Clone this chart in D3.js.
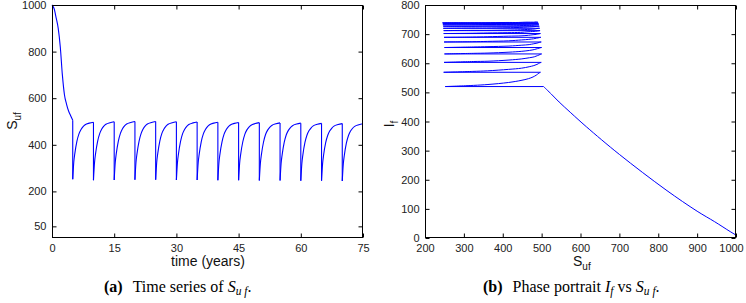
<!DOCTYPE html>
<html>
<head>
<meta charset="utf-8">
<script src="https://cdn.jsdelivr.net/npm/d3@7"></script>
<style>
  body { margin: 0; background: #fff; }
  svg { display: block; }
  .tick text { font-family: "Liberation Sans", Arial, sans-serif; font-size: 11px; fill: #222; }
  .lbl { font-family: "Liberation Sans", Arial, sans-serif; font-size: 14px; fill: #111; }
  .cap { font-family: "Liberation Serif", "Times New Roman", serif; font-size: 16px; fill: #000; }
</style>
</head>
<body>
<svg id="chart" width="746" height="303"></svg>
<script>
// pulse times (years) and the sampling offsets inside each 5-year cycle
const pulseTimes = [5, 10, 15, 20, 25, 30, 35, 40, 45, 50, 55, 60, 65, 70];
const cycleOffsets = [0, 0.25, 0.5, 1, 1.5, 2, 2.5, 3, 4, 5];

// first 5 years, before the first pulse
const initialTimes = [0, 0.5, 1, 1.5, 2, 2.5, 3, 3.5, 4, 4.5, 5];
const initialS = [1000, 985, 945, 900, 820, 700, 615, 575, 545, 525, 505];
const initialI = [10, 22, 56, 92, 165, 287, 382, 430, 467, 494, 520];

// S_uf after each pulse (one row per cycle, at cycleOffsets)
const cycleS = [
  [252, 325, 362, 415, 447, 466, 478, 486, 493, 497],
  [248, 323, 361, 415, 448, 468, 480, 488, 495, 499],
  [249, 324, 362, 416, 449, 469, 481, 489, 496, 500],
  [250, 324, 362, 416, 449, 469, 481, 489, 496, 500],
  [250, 324, 362, 416, 449, 468, 480, 488, 495, 499],
  [249, 323, 361, 415, 448, 467, 479, 487, 494, 498],
  [249, 322, 360, 414, 447, 466, 478, 486, 493, 497],
  [248, 322, 360, 413, 446, 465, 477, 485, 492, 496],
  [248, 321, 359, 412, 445, 464, 476, 484, 491, 495],
  [247, 320, 358, 411, 444, 463, 475, 483, 490, 494],
  [247, 320, 357, 410, 443, 462, 474, 482, 489, 493],
  [246, 319, 357, 410, 442, 461, 473, 481, 488, 492],
  [246, 318, 356, 409, 441, 460, 472, 480, 487, 491],
  [245, 318, 355, 408, 440, 459, 471, 479, 486, 490]
];

// I_f after each pulse (same layout)
const cycleI = [
  [520, 524, 527, 534, 541, 547, 553, 559, 566, 569],
  [569, 572, 574, 579, 583, 588, 592, 596, 601, 603],
  [603, 606, 607, 611, 615, 619, 622, 626, 630, 632],
  [632, 634, 635, 638, 641, 644, 647, 650, 653, 654],
  [654, 656, 657, 659, 662, 664, 667, 669, 672, 673],
  [673, 674, 675, 677, 680, 682, 684, 686, 688, 689],
  [689, 690, 691, 693, 694, 696, 698, 699, 701, 702],
  [702, 703, 704, 705, 706, 708, 709, 710, 711, 712],
  [712, 713, 713, 714, 715, 716, 717, 718, 720, 720],
  [720, 721, 721, 722, 723, 724, 725, 726, 727, 727],
  [727, 727, 728, 728, 729, 730, 730, 731, 732, 732],
  [732, 732, 733, 733, 734, 734, 735, 735, 736, 736],
  [736, 736, 736, 737, 737, 738, 738, 738, 739, 739],
  [739, 739, 739, 740, 740, 741, 741, 741, 742, 742]
];

const timeTicks = [0, 15, 30, 45, 60, 75];
const sTicksA = [50, 200, 400, 600, 800, 1000];
const sTicksB = [200, 300, 400, 500, 600, 700, 800, 900, 1000];
const iTicks = [0, 100, 200, 300, 400, 500, 600, 700, 800];

// build the segments (a pulse separates two segments)
const segments = [initialTimes.map((t, k) => ({ t, s: initialS[k], i: initialI[k] }))];
pulseTimes.forEach((p, c) => {
  segments.push(cycleOffsets.map((o, k) => ({ t: p + o, s: cycleS[c][k], i: cycleI[c][k] })));
});

const svg = d3.select("#chart");
const plotTop = 5, plotBottom = 238;
const BLUE = "#0000ff";
const fmt = d3.format("d");

function frame(g, x, y, xTicks, yTicks) {
  const [x0, x1] = x.range();
  g.append("rect")
    .attr("x", x0 + 0.5).attr("y", plotTop + 0.5)
    .attr("width", x1 - x0 - 1).attr("height", plotBottom - plotTop - 1)
    .attr("fill", "none").attr("stroke", "#000").attr("stroke-width", 1);

  const xb = g.append("g").attr("transform", `translate(0,${plotBottom - 0.5})`)
    .call(d3.axisBottom(x).tickValues(xTicks).tickSize(-4).tickPadding(7).tickFormat(fmt))
    .call(a => a.select(".domain").remove());
  // keep the last x label inside the page
  xb.selectAll(".tick text").filter(d => x(d) > 730).attr("dx", -5);
  g.append("g").attr("transform", `translate(0,${plotTop + 0.5})`)
    .call(d3.axisTop(x).tickValues(xTicks).tickSize(-4).tickFormat(""))
    .call(a => a.select(".domain").remove());
  g.append("g").attr("transform", `translate(${x0 + 0.5},0)`)
    .call(d3.axisLeft(y).tickValues(yTicks).tickSize(-4).tickPadding(6).tickFormat(fmt))
    .call(a => a.select(".domain").remove());
  g.append("g").attr("transform", `translate(${x1 - 0.5},0)`)
    .call(d3.axisRight(y).tickValues(yTicks).tickSize(-4).tickFormat(""))
    .call(a => a.select(".domain").remove());
  g.selectAll(".tick line").attr("stroke", "#000");
}

// ---- (a) time series ----
const xa = d3.scaleLinear().domain([0, 75]).range([52, 363]);
const ya = d3.scaleLinear().domain([0, 1000]).range([plotBottom, plotTop]);
const ga = svg.append("g");

const lineA = d3.line().x(d => xa(d.t)).y(d => ya(d.s)).curve(d3.curveMonotoneX);
ga.append("g").selectAll("path").data(segments).join("path")
  .attr("d", lineA).attr("fill", "none").attr("stroke", BLUE).attr("stroke-width", 1.1);
ga.append("g").selectAll("line").data(segments.slice(1)).join("line")
  .attr("x1", (d, k) => xa(segments[k][segments[k].length - 1].t))
  .attr("y1", (d, k) => ya(segments[k][segments[k].length - 1].s))
  .attr("x2", d => xa(d[0].t)).attr("y2", d => ya(d[0].s))
  .attr("stroke", BLUE).attr("stroke-width", 1.1);
frame(ga, xa, ya, timeTicks, sTicksA);

ga.append("text").attr("class", "lbl").attr("x", 208).attr("y", 266)
  .attr("text-anchor", "middle").text("time (years)");
ga.append("text").attr("class", "lbl")
  .attr("transform", "translate(17,121) rotate(-90)").attr("text-anchor", "middle")
  .call(t => {
    t.append("tspan").text("S");
    t.append("tspan").attr("dy", 4).style("font-size", "10px").text("uf");
  });

// ---- (b) phase portrait ----
const xb = d3.scaleLinear().domain([200, 1000]).range([425, 736]);
const yb = d3.scaleLinear().domain([0, 800]).range([plotBottom, plotTop]);
const gb = svg.append("g");

const lineB = d3.line().x(d => xb(d.s)).y(d => yb(d.i)).curve(d3.curveCatmullRom);
gb.append("g").selectAll("path").data(segments).join("path")
  .attr("d", lineB).attr("fill", "none").attr("stroke", BLUE).attr("stroke-width", 1);
gb.append("g").selectAll("line").data(segments.slice(1)).join("line")
  .attr("x1", (d, k) => xb(segments[k][segments[k].length - 1].s))
  .attr("y1", (d, k) => yb(segments[k][segments[k].length - 1].i))
  .attr("x2", d => xb(d[0].s)).attr("y2", d => yb(d[0].i))
  .attr("stroke", BLUE).attr("stroke-width", 1);
frame(gb, xb, yb, sTicksB, iTicks);

gb.append("text").attr("class", "lbl").attr("x", 573).attr("y", 266)
  .call(t => {
    t.append("tspan").text("S");
    t.append("tspan").attr("dy", 4).style("font-size", "10px").text("uf");
  });
gb.append("text").attr("class", "lbl")
  .attr("transform", "translate(394,124) rotate(-90)").attr("text-anchor", "middle")
  .call(t => {
    t.append("tspan").text("I");
    t.append("tspan").attr("dy", 4).style("font-size", "10px").text("f");
  });

// ---- captions ----
svg.append("text").attr("class", "cap").attr("x", 104).attr("y", 292)
  .call(t => {
    t.append("tspan").style("font-weight", "bold").text("(a)");
    t.append("tspan").attr("dx", 10).text("Time series of ");
    t.append("tspan").style("font-style", "italic").text("S");
    t.append("tspan").attr("dy", 3).style("font-style", "italic").style("font-size", "11.5px").text("u f");
    t.append("tspan").attr("dy", -3).text(".");
  });
svg.append("text").attr("class", "cap").attr("x", 483).attr("y", 292)
  .call(t => {
    t.append("tspan").style("font-weight", "bold").text("(b)");
    t.append("tspan").attr("dx", 10).text("Phase portrait ");
    t.append("tspan").style("font-style", "italic").text("I");
    t.append("tspan").attr("dy", 3).style("font-style", "italic").style("font-size", "11.5px").text("f");
    t.append("tspan").attr("dy", -3).text(" vs ");
    t.append("tspan").style("font-style", "italic").text("S");
    t.append("tspan").attr("dy", 3).style("font-style", "italic").style("font-size", "11.5px").text("u f");
    t.append("tspan").attr("dy", -3).text(".");
  });
</script>
</body>
</html>
